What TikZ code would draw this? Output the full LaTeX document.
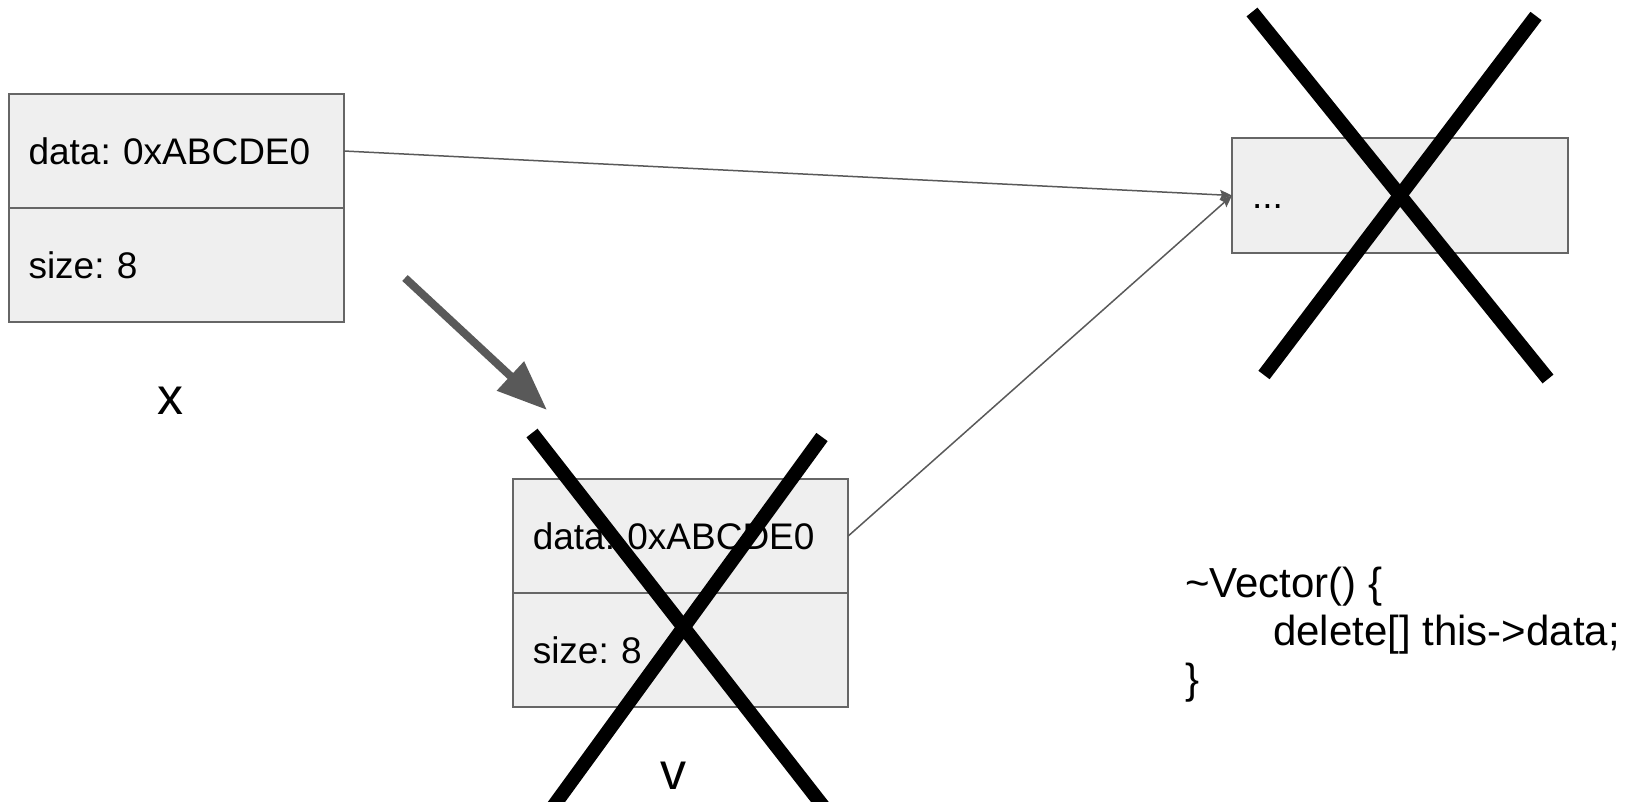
\documentclass[tikz,border=0pt]{standalone}
\usepackage{fontspec}
\setmainfont{Liberation Sans}
\usetikzlibrary{arrows.meta,positioning}

\definecolor{cellfill}{HTML}{EFEFEF}
\definecolor{cellline}{HTML}{666666}
\definecolor{ptrgray}{HTML}{595959}

\tikzset{
  cell/.style={draw=cellline, line width=2pt, fill=cellfill, outer sep=0pt,
    minimum height=114pt, text width=295.5pt, align=left,
    inner xsep=20pt, inner ysep=0pt, text height=26.5pt, text depth=0pt,
    font=\fontsize{37}{44}\selectfont},
  ptr/.style={draw=ptrgray, line width=1.5pt,
    -{Stealth[length=12pt,width=10pt,inset=2pt]}},
  cross/.style={line width=14pt, line cap=butt},
  lbl/.style={font=\fontsize{52}{60}\selectfont, inner sep=0pt},
  code/.style={font=\fontsize{42}{48}\selectfont, inner sep=0pt, anchor=base west}
}

\begin{document}
\frenchspacing
\begin{tikzpicture}[x=1pt,y=-1pt]
\clip (0,0) rectangle (1634,801);

% vector x
\node[cell] (xdata) at (176.25,151) {data: 0xABCDE0};
\node[cell, below=0pt of xdata] (xsize) {size: 8};
\node[lbl] (xlbl) at (170,401) {x};

% vector v
\node[cell] (vdata) at (680.5,536) {data: 0xABCDE0};
\node[cell, below=0pt of vdata] (vsize) {size: 8};
\node[lbl] (vlbl) at (673,776) {v};

% heap buffer
\node[cell, minimum height=115pt, text width=296pt] (heap) at (1400,195.5) {...};

\draw[ptr] (xdata.east) -- (heap.west);
\draw[ptr] (vdata.east) -- (heap.west);

% move arrow
\coordinate (mvfrom) at (405,278);
\coordinate (mvto) at (547,410);
\draw[draw=ptrgray, line width=8pt, -{Triangle[length=50pt,width=38pt]}] (mvfrom) -- (mvto);

% crosses
\draw[cross] (532,433) -- (830,815);
\draw[cross] (822,437) -- (547,815);
\draw[cross] (1252,12) -- (1548,379);
\draw[cross] (1536,16) -- (1264,375);

% destructor
\node[code] (code1) at (1185,597) {\textasciitilde Vector() \{};
\node[code] (code2) at (1273,645) {delete[] this->data;};
\node[code] (code3) at (1185,693) {\}};
\end{tikzpicture}
\end{document}
